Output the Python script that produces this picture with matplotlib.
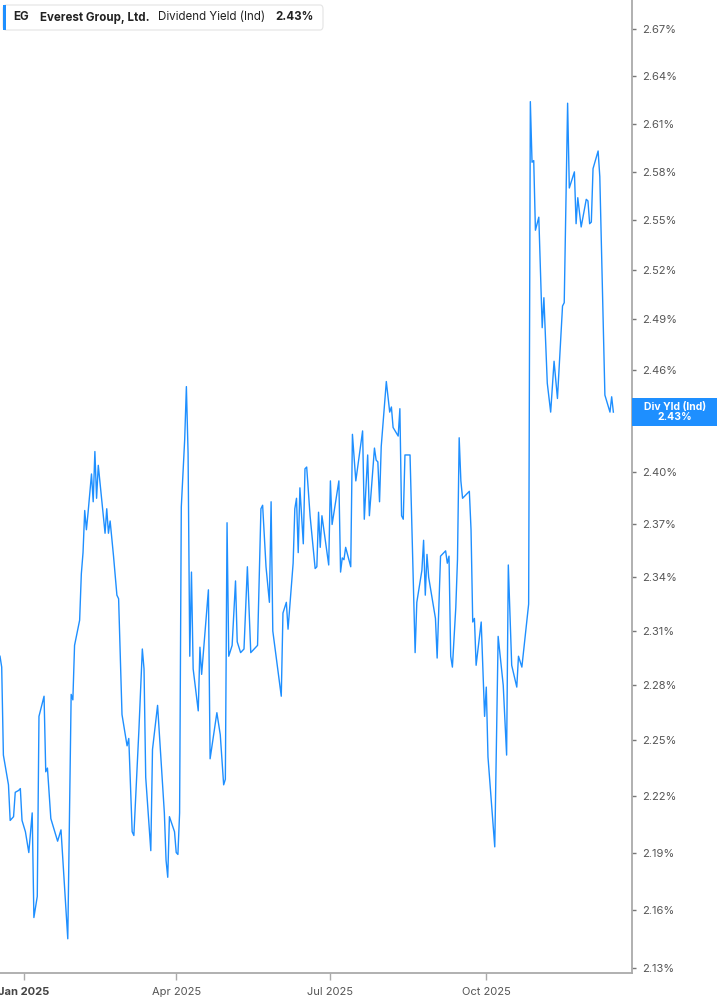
import numpy as np
import pandas as pd
import matplotlib
matplotlib.use("Agg")
import matplotlib.pyplot as plt
from matplotlib.patches import Rectangle, FancyBboxPatch
from matplotlib.ticker import FixedLocator, NullLocator, FuncFormatter

plt.rcParams['font.family'] = ['Inter', 'DejaVu Sans']

# EG dividend yield (indicated)
dates = [
    "2024-12-18", "2024-12-19", "2024-12-20", "2024-12-23", "2024-12-24", "2024-12-26",
    "2024-12-27", "2024-12-29", "2024-12-30", "2024-12-31", "2025-01-02", "2025-01-04",
    "2025-01-06", "2025-01-07", "2025-01-09", "2025-01-10", "2025-01-13", "2025-01-14",
    "2025-01-15", "2025-01-17", "2025-01-21", "2025-01-23", "2025-01-27", "2025-01-29",
    "2025-01-30", "2025-01-31", "2025-02-03", "2025-02-04", "2025-02-05", "2025-02-06",
    "2025-02-07", "2025-02-08", "2025-02-10", "2025-02-11", "2025-02-12", "2025-02-13",
    "2025-02-14", "2025-02-18", "2025-02-19", "2025-02-20", "2025-02-21", "2025-02-23",
    "2025-02-25", "2025-02-26", "2025-02-28", "2025-03-03", "2025-03-04", "2025-03-06",
    "2025-03-07", "2025-03-10", "2025-03-12", "2025-03-13", "2025-03-14", "2025-03-17",
    "2025-03-18", "2025-03-21", "2025-03-23", "2025-03-25", "2025-03-26", "2025-03-27",
    "2025-03-28", "2025-03-31", "2025-04-01", "2025-04-02", "2025-04-03", "2025-04-04",
    "2025-04-06", "2025-04-07", "2025-04-08", "2025-04-09", "2025-04-10", "2025-04-11",
    "2025-04-14", "2025-04-15", "2025-04-16", "2025-04-20", "2025-04-21", "2025-04-25",
    "2025-04-27", "2025-04-29", "2025-04-30", "2025-05-01", "2025-05-02", "2025-05-04",
    "2025-05-06", "2025-05-07", "2025-05-09", "2025-05-11", "2025-05-13", "2025-05-15",
    "2025-05-19", "2025-05-21", "2025-05-22", "2025-05-24", "2025-05-26", "2025-05-27",
    "2025-05-28", "2025-06-02", "2025-06-03", "2025-06-05", "2025-06-06", "2025-06-09",
    "2025-06-10", "2025-06-11", "2025-06-12", "2025-06-13", "2025-06-15", "2025-06-16",
    "2025-06-17", "2025-06-19", "2025-06-22", "2025-06-23", "2025-06-24", "2025-06-25",
    "2025-06-26", "2025-06-30", "2025-07-01", "2025-07-02", "2025-07-06", "2025-07-07",
    "2025-07-08", "2025-07-09", "2025-07-10", "2025-07-13", "2025-07-14", "2025-07-16",
    "2025-07-20", "2025-07-21", "2025-07-23", "2025-07-24", "2025-07-27", "2025-07-28",
    "2025-07-29", "2025-07-30", "2025-07-31", "2025-08-03", "2025-08-05", "2025-08-06",
    "2025-08-07", "2025-08-10", "2025-08-11", "2025-08-12", "2025-08-13", "2025-08-14",
    "2025-08-17", "2025-08-20", "2025-08-21", "2025-08-24", "2025-08-25", "2025-08-26",
    "2025-08-27", "2025-08-28", "2025-09-01", "2025-09-02", "2025-09-04", "2025-09-07",
    "2025-09-08", "2025-09-09", "2025-09-10", "2025-09-11", "2025-09-13", "2025-09-14",
    "2025-09-15", "2025-09-16", "2025-09-17", "2025-09-21", "2025-09-22", "2025-09-23",
    "2025-09-24", "2025-09-25", "2025-09-28", "2025-09-30", "2025-10-01", "2025-10-02",
    "2025-10-06", "2025-10-08", "2025-10-11", "2025-10-13", "2025-10-14", "2025-10-16",
    "2025-10-19", "2025-10-20", "2025-10-22", "2025-10-26", "2025-10-27", "2025-10-28",
    "2025-10-29", "2025-10-30", "2025-11-01", "2025-11-03", "2025-11-04", "2025-11-06",
    "2025-11-08", "2025-11-10", "2025-11-12", "2025-11-15", "2025-11-16", "2025-11-18",
    "2025-11-19", "2025-11-22", "2025-11-23", "2025-11-24", "2025-11-26", "2025-11-29",
    "2025-11-30", "2025-12-01", "2025-12-02", "2025-12-03", "2025-12-06", "2025-12-07",
    "2025-12-10", "2025-12-13", "2025-12-14", "2025-12-15",
]
yields = [
    2.296, 2.290, 2.242, 2.226, 2.207, 2.209,
    2.222, 2.223, 2.224, 2.207, 2.201, 2.190,
    2.211, 2.156, 2.167, 2.263, 2.274, 2.233,
    2.235, 2.208, 2.196, 2.202, 2.145, 2.275,
    2.272, 2.302, 2.316, 2.342, 2.354, 2.378,
    2.367, 2.377, 2.399, 2.383, 2.412, 2.385,
    2.404, 2.365, 2.379, 2.365, 2.372, 2.352,
    2.330, 2.328, 2.264, 2.247, 2.251, 2.201,
    2.199, 2.256, 2.300, 2.289, 2.230, 2.191,
    2.245, 2.269, 2.240, 2.211, 2.186, 2.177,
    2.209, 2.201, 2.190, 2.189, 2.211, 2.380,
    2.419, 2.450, 2.411, 2.296, 2.343, 2.289,
    2.266, 2.301, 2.286, 2.333, 2.240, 2.265,
    2.253, 2.226, 2.229, 2.371, 2.296, 2.302,
    2.338, 2.304, 2.298, 2.300, 2.346, 2.298,
    2.302, 2.379, 2.381, 2.346, 2.326, 2.383,
    2.310, 2.274, 2.320, 2.326, 2.311, 2.348,
    2.379, 2.385, 2.354, 2.391, 2.359, 2.402,
    2.403, 2.375, 2.345, 2.346, 2.377, 2.357,
    2.375, 2.347, 2.395, 2.370, 2.395, 2.343,
    2.351, 2.350, 2.357, 2.346, 2.422, 2.395,
    2.424, 2.373, 2.410, 2.375, 2.414, 2.407,
    2.406, 2.383, 2.415, 2.453, 2.435, 2.438,
    2.426, 2.421, 2.437, 2.375, 2.373, 2.410,
    2.410, 2.298, 2.326, 2.344, 2.361, 2.330,
    2.353, 2.340, 2.317, 2.295, 2.352, 2.355,
    2.348, 2.352, 2.296, 2.290, 2.323, 2.350,
    2.420, 2.395, 2.385, 2.389, 2.367, 2.315,
    2.317, 2.291, 2.315, 2.263, 2.279, 2.241,
    2.193, 2.307, 2.280, 2.242, 2.347, 2.291,
    2.279, 2.296, 2.290, 2.325, 2.624, 2.586,
    2.587, 2.544, 2.552, 2.485, 2.503, 2.452,
    2.435, 2.465, 2.443, 2.498, 2.500, 2.623,
    2.570, 2.580, 2.548, 2.564, 2.546, 2.563,
    2.562, 2.548, 2.549, 2.582, 2.593, 2.577,
    2.445, 2.435, 2.444, 2.435,
]

y_ticks = [2.13, 2.16, 2.19, 2.22, 2.25, 2.28, 2.31, 2.34, 2.37, 2.40,
           2.43, 2.46, 2.49, 2.52, 2.55, 2.58, 2.61, 2.64, 2.67]
x_tick_dates = ["2025-01-01", "2025-04-01", "2025-07-01", "2025-10-01"]
x_tick_labels = ["Jan 2025", "Apr 2025", "Jul 2025", "Oct 2025"]
x_range = ["2024-12-18", "2025-12-26"]
y_range = [2.1274, 2.689]
last_label = "Div Yld (Ind)\n2.43%"

BLUE = "#1e8fff"
W, H = 717, 1005

fig = plt.figure(figsize=(W / 100, H / 100), dpi=100)
ax = fig.add_axes([0, 32 / H, 632 / W, 1 - 32 / H])

x = pd.to_datetime(dates)
ax.plot(x, yields, color=BLUE, lw=1.0)

ax.set_yscale('log')
ax.set_xlim(pd.to_datetime(x_range[0]), pd.to_datetime(x_range[1]))
ax.set_ylim(y_range)

ax.yaxis.set_major_locator(FixedLocator(y_ticks))
ax.yaxis.set_minor_locator(NullLocator())
ax.yaxis.set_major_formatter(FuncFormatter(lambda v, p: f"{v:.2f}%"))
ax.yaxis.tick_right()
ax.tick_params(axis='y', which='major', length=3, width=1, color='#777777',
               labelsize=8, labelcolor='#555555', pad=4)

ax.set_xticks(pd.to_datetime(x_tick_dates))
ax.set_xticklabels(x_tick_labels)
ax.tick_params(axis='x', length=5, width=1, color='#aaaaaa',
               labelsize=8, labelcolor='#555555', pad=5)
ax.get_xticklabels()[0].set_fontweight('bold')
ax.get_xticklabels()[0].set_color('#444444')

for s in ['left', 'top']:
    ax.spines[s].set_visible(False)
for s in ['right', 'bottom']:
    ax.spines[s].set_color('#aaaaaa')
    ax.spines[s].set_linewidth(1.3)

# last value tag on the right axis (covers the 2.43% tick label, as in the source)
ypix = ax.transAxes.transform((0, 0))[1] + \
    ax.get_window_extent().height * (np.log(yields[-1] / y_range[0]) / np.log(y_range[1] / y_range[0]))
fig.add_artist(Rectangle((632 / W, (ypix - 14) / H), (W - 632) / W, 28 / H,
                         transform=fig.transFigure, facecolor=BLUE,
                         edgecolor='none'))
fig.text(675 / W, ypix / H, last_label, ha='center', va='center', color='white',
         fontsize=7.5, fontweight='bold', linespacing=1.0)

# header box
fig.add_artist(FancyBboxPatch((3 / W, 1 - 30 / H), 320 / W, 25 / H,
                              boxstyle="round,pad=0,rounding_size=0.004",
                              transform=fig.transFigure, facecolor='white',
                              edgecolor='#e4e4e4', linewidth=0.8))
fig.add_artist(Rectangle((3 / W, 1 - 30 / H), 3 / W, 25 / H,
                         transform=fig.transFigure, facecolor=BLUE,
                         edgecolor='none'))
ty = 1 - 17.5 / H
fig.text(13 / W, ty, "EG", fontsize=8.3, fontweight='bold', color='#222222', va='center')
fig.text(40 / W, ty, "Everest Group, Ltd.", fontsize=8.3, fontweight='bold',
         color='#222222', va='center')
fig.text(158 / W, ty, "Dividend Yield (Ind)", fontsize=8.3, color='#222222', va='center')
fig.text(275 / W, ty, "2.43%", fontsize=8.3, fontweight='bold', color='#222222', va='center')

fig.savefig("out.png", dpi=100)
